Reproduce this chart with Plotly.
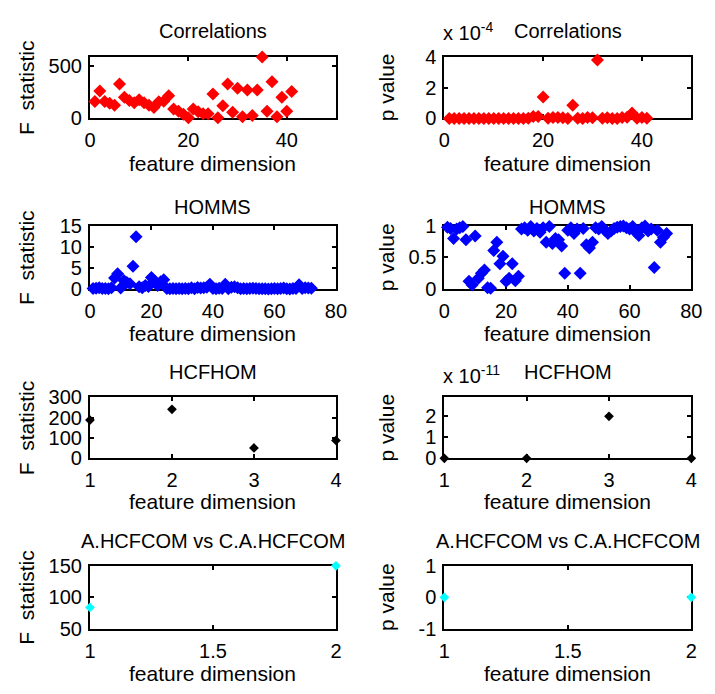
import plotly.graph_objects as go

# ---------------- data ----------------
corr_x = list(range(1, 42))
corr_F = [162, 262, 162, 145, 125, 328, 203, 172, 150, 178,
          150, 125, 105, 160, 165, 216, 91, 69, 40, 8,
          91, 65, 44, 44, 234, 6, 122, 328, 59, 287,
          16, 272, 28, 272, 585, 69, 350, 16, 203, 69, 256]
corr_p = [0, 0, 0, 0, 0, 0, 0, 0, 0, 0,
          0, 0, 0, 0, 0, 0, 0.02e-4, 0.12e-4, 0.12e-4, 1.38e-4,
          0.02e-4, 0.06e-4, 0.06e-4, 0.05e-4, 0.0, 0.85e-4, 0.02e-4, 0.0, 0.06e-4, 0.05e-4,
          3.78e-4, 0.02e-4, 0.05e-4, 0.0, 0.0, 0.06e-4, 0.08e-4, 0.36e-4, 0.02e-4, 0.06e-4, 0.02e-4]

homms_x = list(range(1, 73))
homms_F = [0.1, 0.15, 0.3, 0.1, 0.1, 0.05, 0.3, 2.6, 3.6, 0.2,
           2.0, 1.5, 1.2, 5.4, 12.4, 0.5, 0.3, 0.8, 0.6, 2.7,
           1.9, 0.8, 1.7, 2.2, 0.1, 0.05, 0.1, 0.02, 0.1, 0.05,
           0.12, 0.05, 0.3, 0.02, 0.35, 0.2, 0.25, 0.4, 1.1, 0.1,
           0.05, 0.15, 0.08, 1.1, 0.05, 0.4, 0.5, 0.3, 0.05, 0.08,
           0.02, 0.1, 0.15, 0.1, 0.05, 0.02, 0.02, 0.0, 0.05, 0.08,
           0.02, 0.12, 0.2, 0.05, 0.0, 0.1, 0.08, 1.0, 0.1, 0.3, 0.2, 0.15]
homms_p = [0.98, 0.96, 0.80, 0.95, 0.97, 0.99, 0.78, 0.12, 0.06, 0.84,
           0.17, 0.25, 0.30, 0.02, 0.01, 0.61, 0.74, 0.40, 0.52, 0.12,
           0.17, 0.40, 0.13, 0.20, 0.95, 0.97, 0.93, 0.99, 0.92, 0.96,
           0.90, 0.97, 0.74, 0.99, 0.72, 0.80, 0.78, 0.68, 0.25, 0.93,
           0.97, 0.88, 0.95, 0.25, 0.96, 0.70, 0.65, 0.74, 0.97, 0.95,
           0.99, 0.93, 0.88, 0.92, 0.96, 0.98, 0.99, 1.0, 0.97, 0.95,
           0.99, 0.90, 0.85, 0.97, 1.0, 0.92, 0.95, 0.34, 0.93, 0.74, 0.82, 0.88]

hcf_x = [1, 2, 3, 4]
hcf_F = [188, 241, 51, 88]
hcf_p = [0, 0, 2e-11, 0]

acom_x = [1, 2]
acom_F = [84, 150]
acom_p = [0, 0]

titles = ["Correlations", "Correlations", "HOMMS", "HOMMS",
          "HCFHOM", "HCFHOM", "A.HCFCOM vs C.A.HCFCOM", "A.HCFCOM vs C.A.HCFCOM"]
xlab = "feature dimension"
ylab_F = "F\u00a0\u00a0statistic"
ylab_p = "p value"

# ---------------- layout geometry (window pixels) ----------------
W, H = 715, 694
cols = [(86, 338), (449, 702)]
rows = [(47, 111), (222, 287), (399, 462), (573, 638)]

FONT = "Liberation Sans, Arial, sans-serif"
fig = go.Figure()

def px_x(p):
    return p / W

def px_y(p):
    return 1 - p / H

panels = [
    (corr_x, corr_F, "#ff0000", 10, [0, 50], [0, 20, 40], [0, 590], [0, 500], ["0", "500"]),
    (corr_x, corr_p, "#ff0000", 10, [0, 50], [0, 20, 40], [0, 4e-4], [0, 2e-4, 4e-4], ["0", "2", "4"]),
    (homms_x, homms_F, "#0000ff", 10, [0, 80], [0, 20, 40, 60, 80], [0, 15], [0, 5, 10, 15], ["0", "5", "10", "15"]),
    (homms_x, homms_p, "#0000ff", 10, [0, 80], [0, 20, 40, 60, 80], [0, 1], [0, 0.5, 1], ["0", "0.5", "1"]),
    (hcf_x, hcf_F, "#000000", 7.5, [1, 4], [1, 2, 3, 4], [0, 300], [0, 100, 200, 300], ["0", "100", "200", "300"]),
    (hcf_x, hcf_p, "#000000", 7.5, [1, 4], [1, 2, 3, 4], [0, 2.9e-11], [0, 1e-11, 2e-11], ["0", "1", "2"]),
    (acom_x, acom_F, "#00ffff", 7.5, [1, 2], [1, 1.5, 2], [50, 150], [50, 100, 150], ["50", "100", "150"]),
    (acom_x, acom_p, "#00ffff", 7.5, [1, 2], [1, 1.5, 2], [-1, 1], [-1, 0, 1], ["-1", "0", "1"]),
]

annotations = []
for i, (xs, ys, col, msz, xr, xt, yr, yt, ytt) in enumerate(panels):
    r, c = divmod(i, 2)
    x0, x1 = cols[c]
    y0, y1 = rows[r]
    n = i + 1
    xa = "x" if n == 1 else f"x{n}"
    ya = "y" if n == 1 else f"y{n}"
    fig.add_trace(go.Scatter(
        x=xs, y=ys, mode="markers", xaxis=xa, yaxis=ya,
        marker=dict(symbol="diamond", size=msz, color=col, line=dict(width=0)),
        cliponaxis=False, showlegend=False, hoverinfo="skip"))
    common = dict(showline=True, linecolor="black", linewidth=2, mirror="ticks",
                  ticks="inside", ticklen=4, tickwidth=1.5, tickcolor="black",
                  showgrid=False, zeroline=False, layer="below traces",
                  tickfont=dict(family=FONT, size=20, color="black"))
    fig.layout[f"xaxis{'' if n == 1 else n}"] = dict(
        domain=[px_x(x0), px_x(x1)], anchor=ya, range=xr,
        tickmode="array", tickvals=xt, ticktext=[f"{v:g}" for v in xt],
        ticklabelstandoff=3, **common)
    fig.layout[f"yaxis{'' if n == 1 else n}"] = dict(
        domain=[px_y(y1), px_y(y0)], anchor=xa, range=yr,
        tickmode="array", tickvals=yt, ticktext=ytt, ticklabelstandoff=2, **common)

    cx = (x0 + x1) / 2
    title_y = [21, 202, 373, 547][r]
    annotations.append(dict(text=titles[i], x=px_x(cx), y=px_y(title_y), xref="paper", yref="paper",
                            xanchor="center", yanchor="middle", showarrow=False,
                            font=dict(family=FONT, size=20, color="black")))
    xl_y = [157, 333, 507, 684][r]
    annotations.append(dict(text=xlab, x=px_x(cx), y=px_y(xl_y), xref="paper", yref="paper",
                            xanchor="center", yanchor="middle", showarrow=False,
                            font=dict(family=FONT, size=21, color="black")))
    ylx = 21 if c == 0 else 390
    annotations.append(dict(text=ylab_F if c == 0 else ylab_p, x=px_x(ylx), y=px_y((y0 + y1) / 2),
                            xref="paper", yref="paper", xanchor="center", yanchor="middle",
                            textangle=-90, showarrow=False,
                            font=dict(family=FONT, size=21, color="black")))

# exponent labels
for exp_txt, yy in [("-4", 36), ("-11", 390)]:
    annotations.append(dict(text=f"x 10<sup>{exp_txt}</sup>", x=px_x(446), y=px_y(yy),
                            xref="paper", yref="paper", xanchor="left", yanchor="bottom",
                            showarrow=False, font=dict(family=FONT, size=20, color="black")))

fig.update_layout(width=W, height=H, autosize=False,
                  margin=dict(l=0, r=0, t=0, b=0),
                  paper_bgcolor="white", plot_bgcolor="white",
                  annotations=annotations)

fig.write_html("out.html")
